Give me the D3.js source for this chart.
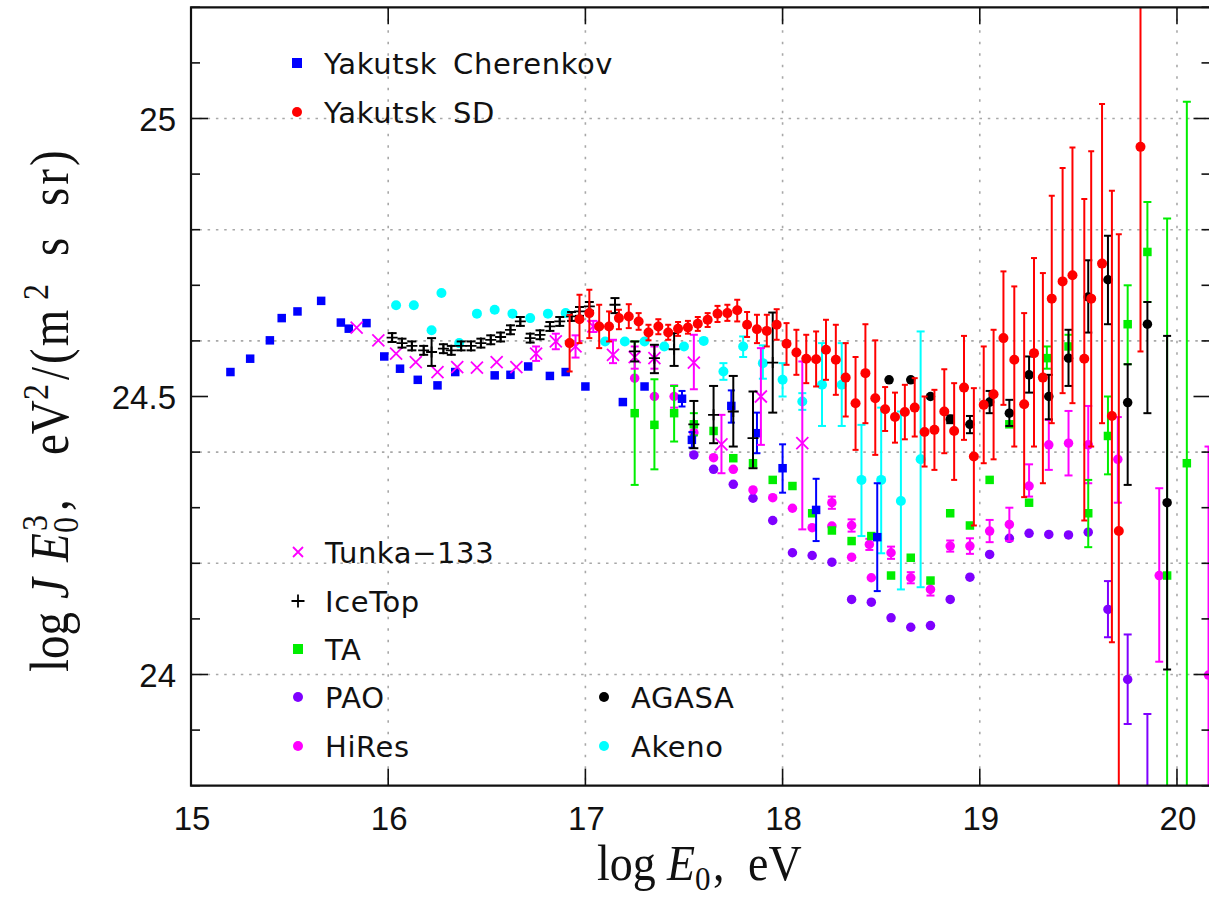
<!DOCTYPE html>
<html><head><meta charset="utf-8">
<script src="https://cdn.jsdelivr.net/npm/d3@7/dist/d3.min.js"></script>
<style>body{margin:0;background:#fff}svg{display:block}</style>
</head><body>
<svg id="chart" width="1209" height="906"></svg>
<script>
// Each point: [log E, log J E^3] or [log E, value, lower, upper]
const yakutskCherenkov = [
  [15.20,24.544],[15.30,24.568],[15.40,24.601],[15.46,24.641],[15.54,24.653],[15.66,24.672],
  [15.76,24.633],[15.80,24.622],[15.89,24.632],[15.98,24.572],[16.06,24.550],[16.15,24.530],
  [16.25,24.520],[16.34,24.544],[16.54,24.538],[16.62,24.539],[16.71,24.554],[16.82,24.537],
  [16.90,24.544],[17.00,24.518],[17.19,24.490],[17.30,24.518],
  [17.49,24.496,24.482,24.510],[17.54,24.422,24.408,24.436],[17.74,24.483,24.453,24.511],
  [17.87,24.434,24.398,24.471],[18.00,24.371,24.327,24.414],[18.17,24.296,24.240,24.352],
  [18.48,24.247,24.150,24.344]
];
const yakutskSD = [
  [16.92,24.596,24.545,24.647],[16.97,24.639,24.596,24.683],[17.02,24.650,24.605,24.692],
  [17.07,24.626,24.587,24.665],[17.12,24.626,24.599,24.653],[17.17,24.641,24.621,24.656],
  [17.22,24.644,24.623,24.666],[17.27,24.635,24.620,24.650],[17.32,24.615,24.601,24.629],
  [17.37,24.626,24.612,24.639],[17.42,24.615,24.602,24.629],[17.47,24.622,24.609,24.634],
  [17.52,24.624,24.613,24.636],[17.57,24.631,24.618,24.643],[17.62,24.638,24.625,24.650],
  [17.67,24.649,24.634,24.663],[17.72,24.650,24.636,24.665],[17.77,24.655,24.635,24.674],
  [17.82,24.629,24.607,24.652],[17.87,24.621,24.596,24.647],[17.92,24.618,24.590,24.647],
  [17.97,24.629,24.602,24.657],[18.02,24.595,24.557,24.632],[18.07,24.579,24.539,24.620],
  [18.12,24.568,24.524,24.611],[18.17,24.567,24.518,24.617],[18.22,24.584,24.530,24.638],
  [18.27,24.566,24.503,24.629],[18.32,24.534,24.464,24.596],[18.37,24.488,24.404,24.571],
  [18.42,24.542,24.452,24.630],[18.47,24.497,24.395,24.601],[18.52,24.477,24.438,24.517],
  [18.57,24.463,24.417,24.507],[18.62,24.472,24.423,24.521],[18.67,24.480,24.428,24.533],
  [18.72,24.436,24.374,24.500],[18.77,24.440,24.368,24.512],[18.82,24.473,24.398,24.549],
  [18.87,24.438,24.350,24.524],[18.92,24.516,24.422,24.609],[18.97,24.392,24.268,24.515],
  [19.02,24.485,24.380,24.590],[19.07,24.504,24.387,24.620],[19.12,24.605,24.485,24.725],
  [19.175,24.566,24.410,24.698],[19.225,24.486,24.319,24.650],[19.275,24.578,24.410,24.749],
  [19.32,24.534,24.344,24.722],[19.365,24.676,24.452,24.861],[19.42,24.707,24.506,24.911],
  [19.47,24.718,24.488,24.948],[19.53,24.568,24.277,24.855],[19.565,24.676,24.410,24.941],
  [19.62,24.739,24.452,25.026],[19.67,24.465,24.058,24.870],[19.705,24.258,23.600,24.792],
  [19.815,24.949,24.581,25.400]
];
const tunka133 = [
  [15.84,24.624],[15.95,24.601],[16.04,24.577],[16.14,24.562],[16.25,24.544],[16.35,24.553],
  [16.45,24.552],[16.55,24.562],[16.65,24.553],[16.75,24.577,24.564,24.590],
  [16.85,24.599,24.585,24.613],[16.95,24.590,24.570,24.610],[17.04,24.626,24.616,24.636],
  [17.14,24.575,24.560,24.602],[17.25,24.571,24.550,24.590],[17.35,24.569,24.550,24.590],
  [17.55,24.561,24.513,24.611],[17.69,24.414,24.362,24.467],[17.89,24.500,24.413,24.587],
  [18.10,24.416,24.261,24.563]
];
const iceTop = [
  [16.02,24.606,24.598,24.614],[16.07,24.596,24.588,24.604],[16.12,24.591,24.583,24.599],
  [16.18,24.583,24.575,24.591],[16.22,24.580,24.555,24.605],[16.28,24.586,24.578,24.594],
  [16.32,24.583,24.575,24.591],[16.37,24.591,24.583,24.599],[16.42,24.591,24.583,24.599],
  [16.47,24.596,24.588,24.604],[16.52,24.602,24.594,24.610],[16.57,24.607,24.599,24.615],
  [16.62,24.620,24.612,24.628],[16.67,24.635,24.627,24.643],[16.72,24.605,24.597,24.613],
  [16.77,24.611,24.603,24.619],[16.82,24.626,24.618,24.634],[16.87,24.635,24.627,24.643],
  [16.93,24.644,24.636,24.652],[16.97,24.653,24.645,24.661],[17.02,24.662,24.654,24.670],
  [17.15,24.665,24.650,24.677],[17.25,24.581,24.563,24.599],[17.35,24.569,24.542,24.593],
  [17.45,24.585,24.555,24.614],[17.55,24.450,24.407,24.492],[17.65,24.467,24.416,24.519],
  [17.75,24.473,24.410,24.537],[17.85,24.425,24.371,24.509],[17.95,24.561,24.471,24.651]
];
const telescopeArray = [
  [17.25,24.470,24.341,24.599],[17.35,24.449,24.369,24.531],[17.45,24.470,24.419,24.519],
  [17.55,24.450,24.430,24.470],[17.65,24.438],[17.75,24.389],[17.85,24.380],[17.95,24.350],
  [18.05,24.339],[18.15,24.290],[18.25,24.259],[18.35,24.240],[18.45,24.249],[18.55,24.178],
  [18.65,24.210],[18.75,24.169],[18.85,24.290],[18.95,24.268],[19.05,24.350],[19.15,24.450],
  [19.25,24.309],[19.34,24.569,24.550,24.590],[19.45,24.590,24.570,24.611],
  [19.55,24.290,24.229,24.350],[19.65,24.429,24.360,24.500],[19.75,24.630,24.558,24.700],
  [19.85,24.760,24.670,24.850],[19.95,24.178,23.600,24.820],[20.05,24.380,23.600,25.030]
];
const pao = [
  [17.55,24.395],[17.65,24.369],[17.75,24.342],[17.85,24.317],[17.95,24.277],[18.05,24.219],
  [18.15,24.214],[18.25,24.202],[18.35,24.135],[18.45,24.130],[18.55,24.102],[18.65,24.085],
  [18.75,24.088],[18.85,24.135],[18.95,24.175],[19.05,24.216],[19.15,24.245],[19.25,24.254],
  [19.35,24.252],[19.45,24.251],[19.55,24.256],[19.65,24.117,24.067,24.168],
  [19.75,23.991,23.911,24.072],[19.85,23.750,23.600,23.929]
];
const hiRes = [
  [17.25,24.533],[17.35,24.500],[17.45,24.500,24.480,24.520],[17.55,24.435],[17.65,24.390],
  [17.75,24.369],[17.85,24.332],[17.95,24.318],[18.05,24.299],[18.15,24.264],[18.25,24.267],
  [18.35,24.211],[18.45,24.174],
  [18.25,24.309,24.298,24.320],[18.35,24.268,24.257,24.279],[18.44,24.234,24.224,24.244],
  [18.55,24.219,24.208,24.230],[18.65,24.174,24.164,24.184],[18.75,24.153,24.142,24.164],
  [18.85,24.231,24.221,24.241],[18.95,24.231,24.217,24.245],[19.05,24.258,24.238,24.278],
  [19.15,24.270,24.240,24.300],[19.25,24.339,24.320,24.378],[19.35,24.413,24.368,24.458],
  [19.45,24.416,24.358,24.474],[19.55,24.413,24.344,24.483],[19.70,24.387,24.309,24.463],
  [19.91,24.178,24.023,24.335],[20.16,23.999,23.600,24.410]
];
const agasa = [
  [18.54,24.530],[18.65,24.530],[18.75,24.500],[18.85,24.459,24.452,24.466],
  [18.95,24.450,24.434,24.465],[19.05,24.490,24.470,24.510],[19.15,24.470,24.447,24.494],
  [19.25,24.539,24.507,24.572],[19.35,24.500,24.459,24.539],[19.45,24.569,24.519,24.620],
  [19.55,24.679,24.615,24.745],[19.65,24.710,24.630,24.789],[19.75,24.489,24.341,24.558],
  [19.85,24.630,24.470,24.670],[19.95,24.309,24.009,24.609]
];
const akeno = [
  [16.04,24.664],[16.13,24.664],[16.27,24.686],[16.22,24.619],[16.36,24.596],[16.45,24.649],
  [16.54,24.656],[16.63,24.649],[16.72,24.641],[16.81,24.649],[16.90,24.650],[17.10,24.599],
  [17.20,24.599],[17.30,24.599],[17.40,24.590],[17.50,24.590],[17.60,24.600],
  [17.70,24.545,24.530,24.560],[17.80,24.590,24.571,24.608],[17.90,24.560,24.532,24.592],
  [18.00,24.530,24.500,24.560],[18.10,24.491,24.476,24.506],[18.20,24.521,24.447,24.596],
  [18.30,24.521,24.447,24.596],[18.40,24.350,24.249,24.449],[18.50,24.350,24.218,24.480],
  [18.60,24.312,24.153,24.473],[18.70,24.387,24.157,24.617]
];

const xTicks = [15, 16, 17, 18, 19, 20];
const yMajorTicks = [24, 24.5, 25];
const yMinorTicks = d3.range(23.8, 25.21, 0.1).map(v => +v.toFixed(1));
const yGrid = [24.0, 24.2, 24.4, 24.6, 24.8, 25.0];

const svg = d3.select('#chart');
const x = d3.scaleLinear().domain([15, 20.17]).range([191, 1210.5]);
const y = d3.scaleLinear().domain([23.8, 25.2]).range([785.7, 7.3]);
const [X0, X1] = x.range(), [Y0, Y1] = y.range();

svg.append('rect').attr('width', 1209).attr('height', 906).attr('fill', '#fff');

svg.append('defs').append('clipPath').attr('id', 'plot')
  .append('rect').attr('x', X0).attr('y', Y1).attr('width', X1 - X0).attr('height', Y0 - Y1);

// dotted grid
const grid = svg.append('g').attr('stroke', '#a8a8a8').attr('stroke-width', 1.6);
grid.selectAll('line.h').data(yGrid).join('line')
  .attr('x1', X0).attr('x2', X1).attr('y1', d => y(d)).attr('y2', d => y(d))
  .attr('stroke-dasharray', '2.5,5.8');
grid.selectAll('line.v').data(xTicks.slice(1)).join('line')
  .attr('x1', d => x(d)).attr('x2', d => x(d)).attr('y1', Y1).attr('y2', Y0)
  .attr('stroke-dasharray', '2.5,9');

// marker shapes
function drawMarker(g, type, cx, cy, s, color) {
  if (type === 'square') {
    g.append('rect').attr('x', cx - s / 2).attr('y', cy - s / 2).attr('width', s).attr('height', s).attr('fill', color);
  } else if (type === 'circle') {
    g.append('circle').attr('cx', cx).attr('cy', cy).attr('r', s / 2).attr('fill', color);
  } else if (type === 'cross') {
    const h = s / 2;
    g.append('path').attr('d', `M${cx-h},${cy-h}L${cx+h},${cy+h}M${cx-h},${cy+h}L${cx+h},${cy-h}`)
      .attr('stroke', color).attr('stroke-width', 1.8).attr('fill', 'none');
  } else if (type === 'plus') {
    const h = s / 2;
    g.append('path').attr('d', `M${cx-h},${cy}L${cx+h},${cy}M${cx},${cy-h}L${cx},${cy+h}`)
      .attr('stroke', color).attr('stroke-width', 1.8).attr('fill', 'none');
  }
}

const series = [
  { data: akeno, color: '#00ffff', type: 'circle', size: 10, cap: 8 },
  { data: pao, color: '#7f00ff', type: 'circle', size: 9.5, cap: 8 },
  { data: hiRes, color: '#ff00ff', type: 'circle', size: 9.5, cap: 8 },
  { data: telescopeArray, color: '#00ee00', type: 'square', size: 8.5, cap: 8 },
  { data: yakutskCherenkov, color: '#0000ff', type: 'square', size: 8.5, cap: 7 },
  { data: agasa, color: '#000000', type: 'circle', size: 9.5, cap: 8 },
  { data: tunka133, color: '#ff00ff', type: 'cross', size: 12, cap: 8 },
  { data: iceTop, color: '#000000', type: 'plus', size: 11, cap: 9 },
  { data: yakutskSD, color: '#ff0000', type: 'circle', size: 10, cap: 6 }
];

const plot = svg.append('g').attr('clip-path', 'url(#plot)');
const [dLo, dHi] = y.domain();
series.forEach(s => {
  const g = plot.append('g');
  s.data.forEach(p => {
    const cx = x(p[0]);
    if (p.length > 2) {
      g.append('line').attr('x1', cx).attr('x2', cx).attr('y1', y(p[2])).attr('y2', y(p[3]))
        .attr('stroke', s.color).attr('stroke-width', 2);
      [p[2], p[3]].forEach(v => {
        if (v > dLo && v < dHi) {
          g.append('line').attr('x1', cx - s.cap / 2).attr('x2', cx + s.cap / 2)
            .attr('y1', y(v)).attr('y2', y(v)).attr('stroke', s.color).attr('stroke-width', 2);
        }
      });
    }
    drawMarker(g, s.type, cx, y(p[1]), s.size, s.color);
  });
});

// frame and ticks
const axes = svg.append('g').attr('stroke', '#111').attr('fill', 'none');
axes.append('path').attr('d', `M${X1},${Y1}H${X0}V${Y0}H${X1}`).attr('stroke-width', 2.2);
xTicks.forEach(v => {
  axes.append('line').attr('x1', x(v)).attr('x2', x(v)).attr('y1', Y0).attr('y2', Y0 - 17).attr('stroke-width', 1.6);
  axes.append('line').attr('x1', x(v)).attr('x2', x(v)).attr('y1', Y1).attr('y2', Y1 + 17).attr('stroke-width', 1.6);
});
yMinorTicks.forEach(v => {
  const len = yMajorTicks.includes(v) ? 17 : 9;
  axes.append('line').attr('x1', X0).attr('x2', X0 + len).attr('y1', y(v)).attr('y2', y(v)).attr('stroke-width', 1.6);
  axes.append('line').attr('x1', X1).attr('x2', X1 - len).attr('y1', y(v)).attr('y2', y(v)).attr('stroke-width', 1.6);
});

// tick labels
const tickFont = "'Liberation Sans', Arial, sans-serif";
svg.append('g').selectAll('text').data(xTicks).join('text')
  .attr('x', d => x(d) + 1).attr('y', 830).attr('text-anchor', 'middle')
  .attr('font-family', tickFont).attr('font-size', 33).attr('fill', '#111').text(d => d);
svg.append('g').selectAll('text').data(yMajorTicks).join('text')
  .attr('x', 176).attr('y', d => y(d) + 12).attr('text-anchor', 'end')
  .attr('font-family', tickFont).attr('font-size', 33).attr('fill', '#111').text(d => d);

// axis titles (serif, slightly tall glyphs), pieces laid out along the baseline
const serif = "'Liberation Serif', 'DejaVu Serif', serif";
const xt = svg.append('g').attr('transform', 'translate(0,880) scale(1,1.12)')
  .append('text').attr('font-family', serif).attr('font-size', 46).attr('fill', '#111');
xt.append('tspan').attr('x', 597).text('log');
xt.append('tspan').attr('x', 667).attr('font-style', 'italic').text('E');
xt.append('tspan').attr('x', 695).attr('font-size', 31).attr('dy', 9).text('0');
xt.append('tspan').attr('x', 713).attr('dy', -9).text(',');
xt.append('tspan').attr('x', 748).text('eV');

const yt = svg.append('g').attr('transform', 'translate(68,672) rotate(-90) scale(1,1.15)')
  .append('text').attr('font-family', serif).attr('font-size', 47).attr('fill', '#111');
yt.append('tspan').attr('x', 0).text('log');
yt.append('tspan').attr('x', 73).attr('font-style', 'italic').text('J');
yt.append('tspan').attr('x', 110).attr('font-style', 'italic').text('E');
yt.append('tspan').attr('x', 139).attr('font-size', 32).attr('dy', 9).text('0');
yt.append('tspan').attr('x', 141).attr('font-size', 32).attr('dy', -27).text('3');
yt.append('tspan').attr('x', 161).attr('dy', 18).text(',');
yt.append('tspan').attr('x', 217).text('eV');
yt.append('tspan').attr('x', 272).attr('font-size', 32).attr('dy', -17).text('2');
yt.append('tspan').attr('x', 292).attr('dy', 17).text('/');
yt.append('tspan').attr('x', 308).attr('letter-spacing', 2).text('(m');
yt.append('tspan').attr('x', 372).attr('font-size', 32).attr('dy', -17).text('2');
yt.append('tspan').attr('x', 416).attr('dy', 17).text('s');
yt.append('tspan').attr('x', 466).attr('letter-spacing', 3).text('sr)');

// legend
const legendRows = [
  { name: 'Yakutsk Cherenkov', color: '#0000ff', type: 'square', x: 297, y: 63 },
  { name: 'Yakutsk SD', color: '#ff0000', type: 'circle', x: 297, y: 112 },
  { name: 'Tunka\u2212133', color: '#ff00ff', type: 'cross', x: 298, y: 552 },
  { name: 'IceTop', color: '#000000', type: 'plus', x: 298, y: 601 },
  { name: 'TA', color: '#00ee00', type: 'square', x: 298, y: 649 },
  { name: 'PAO', color: '#7f00ff', type: 'circle', x: 298, y: 697 },
  { name: 'HiRes', color: '#ff00ff', type: 'circle', x: 298, y: 746 },
  { name: 'AGASA', color: '#000000', type: 'circle', x: 604, y: 697 },
  { name: 'Akeno', color: '#00ffff', type: 'circle', x: 604, y: 746 }
];
const lg = svg.append('g');
legendRows.forEach(r => {
  drawMarker(lg, r.type, r.x, r.y, r.type === 'plus' ? 13 : 10, r.color);
  lg.append('text').attr('x', r.x + 27).attr('y', r.y + 10.5)
    .attr('font-family', "'DejaVu Sans', sans-serif").attr('font-size', 29)
    .attr('letter-spacing', 0.6).attr('word-spacing', 6).attr('fill', '#111').text(r.name);
});
</script>
</body></html>
